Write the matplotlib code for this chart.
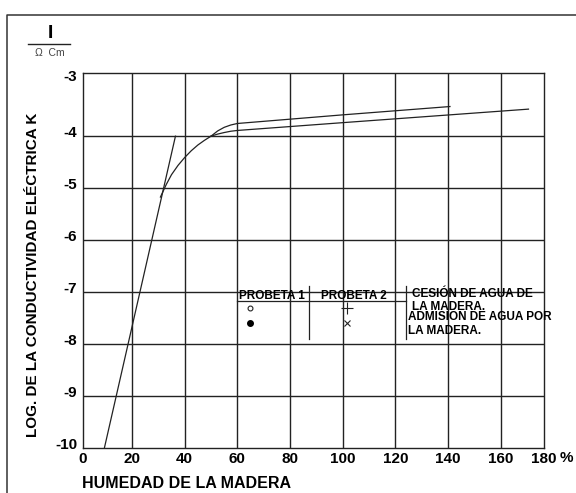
"""Log conductivity of wood vs moisture content (hand-drawn style chart)."""

import matplotlib

matplotlib.use("Agg")
import matplotlib.pyplot as plt
import matplotlib.transforms as mtransforms
from matplotlib.lines import Line2D

plt.rcParams["font.family"] = ["Liberation Sans", "DejaVu Sans"]

# axis ticks / labels
x_grid = [20, 40, 60, 80, 100, 120, 140, 160]
x_labels = ["0", "20", "40", "60", "80", "100", "120", "140", "160", "180"]
y_grid = [-10, -9, -8, -7, -6, -5, -4]
y_labels = ["-10", "-9", "-8", "-7", "-6", "-5", "-4", "-3"]
x_lim = (1.3, 176.4)
y_lim = (-10.0, -2.78)

# steep straight line
steep_x = [9.5, 36.5]
steep_y = [-10.0, -4.0]

# common part of the two curves
common_x = [30.8, 33.0, 35.0, 37.5, 40.0, 42.5, 45.0, 47.5, 50.0]
common_y = [-5.17, -4.93, -4.74, -4.56, -4.41, -4.28, -4.17, -4.08, -4.0]

# upper curve (cesion de agua)
upper_x = [50.0, 52.5, 55.0, 57.5, 60.0, 100.0, 140.7]
upper_y = [-4.0, -3.90, -3.83, -3.785, -3.756, -3.59, -3.43]

# lower curve (admision de agua)
lower_x = [50.0, 52.5, 55.0, 57.5, 60.0, 100.0, 170.5]
lower_y = [-4.0, -3.96, -3.93, -3.905, -3.89, -3.74, -3.48]

# legend box inside the plot (data coords)
legend_rule_y = -7.167
legend_rule_x = [60.0, 124.0]
legend_vlines_x = [87.2, 124.0]
legend_vlines_y = [-6.885, -7.89]
probeta_x = [60.6, 91.7]
probeta_names = ["PROBETA 1", "PROBETA 2"]
mark_rows_y = [-7.30, -7.59]
probeta1_x = 64.8
probeta2_x = 101.8
notes = ["CESIÓN DE AGUA DE\nLA MADERA.", "ADMISIÓN DE AGUA POR\nLA MADERA."]
notes_x = [126.3, 124.9]
notes_y = [-7.16, -7.61]

INK = "#222222"

fig = plt.figure(figsize=(5.76, 4.93), dpi=100)
ax = fig.add_axes([0.1436, 0.0907, 0.8009, 0.7618])
ax.set_xlim(*x_lim)
ax.set_ylim(*y_lim)

for gx in x_grid:
    ax.axvline(gx, color=INK, lw=1.0, zorder=1)
for gy in y_grid[1:]:
    ax.axhline(gy, color=INK, lw=1.0, zorder=1)
for sp in ax.spines.values():
    sp.set_color(INK)
    sp.set_linewidth(1.0)

ax.plot(steep_x, steep_y, color=INK, lw=0.9, zorder=3)
ax.plot(common_x, common_y, color=INK, lw=0.9, zorder=3)
ax.plot(upper_x, upper_y, color=INK, lw=0.9, zorder=3)
ax.plot(lower_x, lower_y, color=INK, lw=0.9, zorder=3)

# ticks: first/last labels sit on the frame edges like the drawing
ax.set_xticks([x_lim[0]] + x_grid + [x_lim[1]])
ax.set_xticklabels(x_labels, fontsize=11, fontweight="bold")
ax.set_yticks(y_grid + [y_lim[1]])
ax.set_yticklabels(y_labels, fontsize=11, fontweight="bold")
ax.tick_params(axis="both", length=0)
ax.tick_params(axis="x", pad=2.5)
ax.tick_params(axis="y", pad=4)
for i, lab in enumerate(ax.get_yticklabels()):
    dy = -3 if i == len(y_labels) - 1 else 5
    lab.set_transform(lab.get_transform()
                      + mtransforms.ScaledTranslation(0, dy / 100, fig.dpi_scale_trans))
fig.text(560 / 576, 1 - 458 / 493, "%", fontsize=11, fontweight="bold",
         ha="left", va="center")

# legend table
ax.plot(legend_rule_x, [legend_rule_y, legend_rule_y], color=INK, lw=0.9, zorder=3)
for vx in legend_vlines_x:
    ax.plot([vx, vx], legend_vlines_y, color=INK, lw=0.9, zorder=3)
for px, name in zip(probeta_x, probeta_names):
    ax.text(px, -7.08, name, fontsize=8.5, fontweight="bold", ha="left", va="center")
ax.plot([probeta1_x], [mark_rows_y[0]], "o", mfc="white", mec=INK, ms=3.5, mew=0.8)
ax.plot([probeta1_x], [mark_rows_y[1]], "o", color="black", ms=4)
ax.plot([probeta2_x], [mark_rows_y[0]], "+", color=INK, ms=8, mew=0.8)
ax.plot([probeta2_x], [mark_rows_y[1]], "x", color=INK, ms=5, mew=0.8)
for nx, ny, note in zip(notes_x, notes_y, notes):
    ax.text(nx, ny, note, fontsize=8.5, fontweight="bold", ha="left", va="center",
            linespacing=1.15)

# axis titles
fig.text(0.142, 0.0197, "HUMEDAD DE LA MADERA", fontsize=11.5, fontweight="bold",
         ha="left", va="center")
fig.text(0.057, 0.442, "LOG. DE LA CONDUCTIVIDAD ELÉCTRICA K", fontsize=11,
         fontweight="bold", rotation=90, ha="center", va="center")

# unit fraction  I / (Ohm cm)
fig.text(0.0868, 0.933, "I", fontsize=14, fontweight="bold", ha="center", va="center")
fig.add_artist(Line2D([0.0486, 0.1215], [0.910, 0.910], color=INK, lw=1.0))
fig.text(0.0868, 0.893, "Ω  Cm", fontsize=7.5, color="#444444", ha="center", va="center")

# outer frame (top and left only)
fig.add_artist(Line2D([7.3 / 576, 7.3 / 576, 1.0], [0.0, 1 - 15 / 493, 1 - 15 / 493],
                      color="#333333", lw=1.1))

fig.savefig("out.png", dpi=100)
